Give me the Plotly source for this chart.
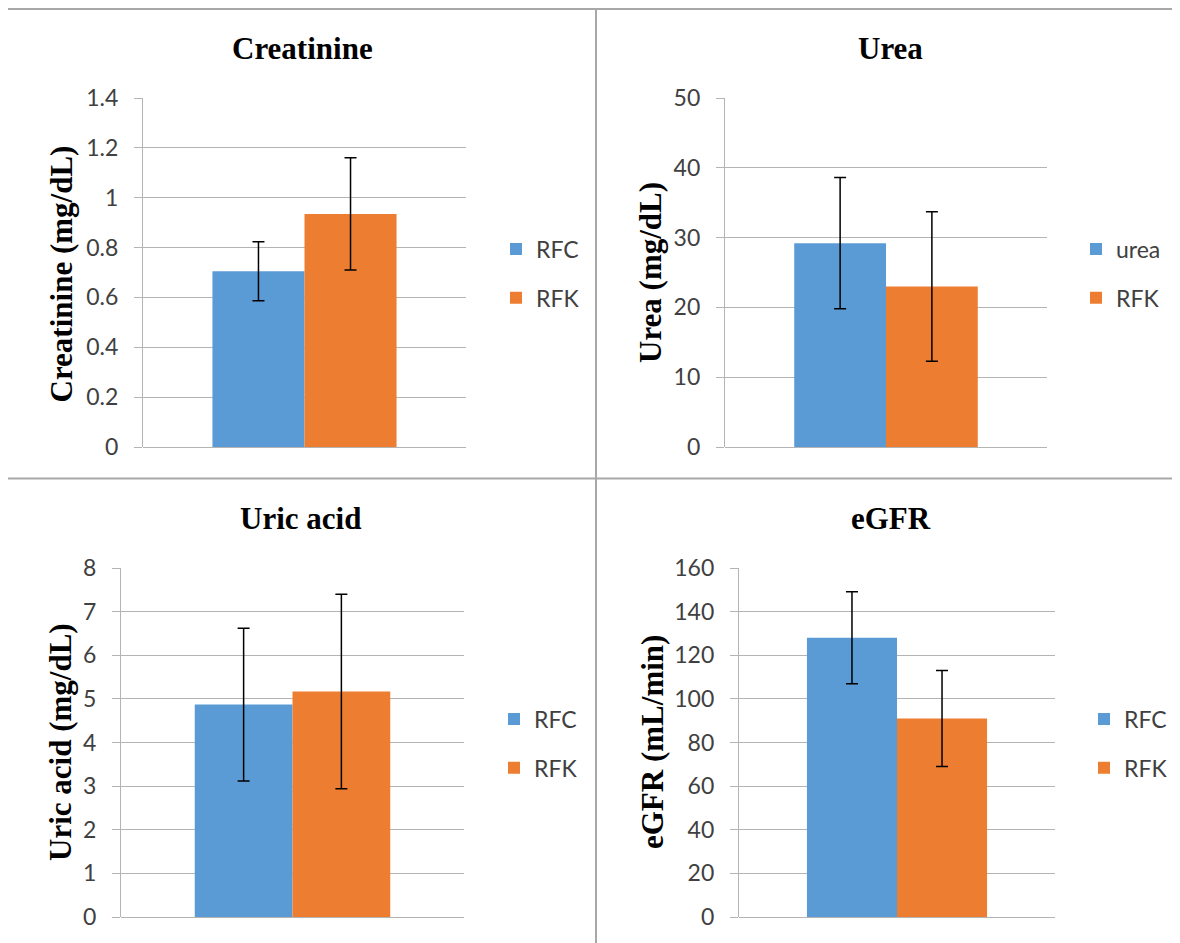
import plotly.graph_objects as go

W, H = 1180, 943
OFF = 8  # page body margin in the browser

# ---------------- data ----------------
group_names = ["RFC", "RFK"]
urea_group_names = ["urea", "RFK"]

creatinine_mean = [0.705, 0.935]
creatinine_sd = [0.118, 0.225]

urea_mean = [29.2, 23.0]
urea_sd = [9.4, 10.7]

uric_mean = [4.87, 5.17]
uric_sd = [1.75, 2.23]

egfr_mean = [128.0, 91.0]
egfr_sd = [21.1, 22.0]

panel_titles = ["Creatinine", "Urea", "Uric acid", "eGFR"]
axis_titles = ["Creatinine (mg/dL)", "Urea (mg/dL)", "Uric acid (mg/dL)", "eGFR (mL/min)"]
y_max = [1.4, 50, 8, 160]
y_step = [0.2, 10, 1, 20]

# ---------------- style ----------------
bar_colors = ["#5B9BD5", "#ED7D31"]
grid_col = "#b4b4b4"
border_col = "#a8a8a8"
tick_font = dict(family="Lato", size=23, color="#404040")
serif = "Liberation Serif"

def fx(p):
    return (p - OFF) / W

def fy(p):
    return 1 - (p - OFF) / H

panels = [
    dict(names=group_names, mean=creatinine_mean, sd=creatinine_sd,
         plot=(143, 466, 98, 447), title_xy=(302, 48), ytitle_xy=(61, 274.5), leg=(516, 273.5)),
    dict(names=urea_group_names, mean=urea_mean, sd=urea_sd,
         plot=(725, 1047, 98, 447), title_xy=(890, 48), ytitle_xy=(650, 273), leg=(1096, 273.5)),
    dict(names=group_names, mean=uric_mean, sd=uric_sd,
         plot=(121, 464, 568, 917), title_xy=(300, 518), ytitle_xy=(60, 742), leg=(514, 743.5)),
    dict(names=group_names, mean=egfr_mean, sd=egfr_sd,
         plot=(739, 1055, 568, 917), title_xy=(891, 518), ytitle_xy=(652, 742), leg=(1104, 743.5)),
]

fig = go.Figure()
layout = dict(
    width=W, height=H, margin=dict(l=0, r=0, t=0, b=0, autoexpand=False),
    paper_bgcolor="white", plot_bgcolor="white",
    barmode="group", bargap=0.43, bargroupgap=0,
    showlegend=True,
)
annotations = []

for i, p in enumerate(panels):
    k = "" if i == 0 else str(i + 1)
    xa, ya, lg = "x" + k, "y" + k, "legend" + k
    for j in range(2):
        fig.add_trace(go.Bar(
            x=[0], y=[p["mean"][j]], name=p["names"][j],
            marker=dict(color=bar_colors[j], line=dict(width=0)),
            error_y=dict(type="data", array=[p["sd"][j]], color="black", thickness=1.5, width=6),
            xaxis=xa, yaxis=ya, legend=lg, legendgroup=f"g{i}_{j}",
            offsetgroup=str(j),
        ))
    x0, x1, y0, y1 = p["plot"]
    layout["xaxis" + k] = dict(domain=[fx(x0), fx(x1)], range=[-0.5, 0.5], anchor=ya,
                                showticklabels=False, showgrid=False, zeroline=False,
                                ticks="", showline=False, fixedrange=True)
    layout["yaxis" + k] = dict(domain=[fy(y1), fy(y0)], range=[0, y_max[i]], dtick=y_step[i],
                                anchor=xa, showgrid=True, gridcolor=grid_col, gridwidth=1.3,
                                zeroline=True, zerolinecolor=grid_col, zerolinewidth=1.3,
                                showline=True, linecolor=grid_col, linewidth=1.3,
                                ticks="outside", ticklen=8, tickcolor=grid_col, tickwidth=1.3,
                                tickfont=tick_font, ticklabelstandoff=11, fixedrange=True)
    lx, ly = p["leg"]
    layout[lg] = dict(x=fx(lx - 20), y=fy(ly), xanchor="left", yanchor="middle",
                      font=tick_font, bgcolor="rgba(0,0,0,0)", borderwidth=0,
                      tracegroupgap=16, itemwidth=30)
    tx, ty = p["title_xy"]
    annotations.append(dict(text="<b>" + panel_titles[i] + "</b>", x=fx(tx), y=fy(ty),
                            xref="paper", yref="paper", xanchor="center", yanchor="middle",
                            showarrow=False, font=dict(family=serif, size=31, color="black")))
    ax, ay = p["ytitle_xy"]
    annotations.append(dict(text="<b>" + axis_titles[i] + "</b>", x=fx(ax), y=fy(ay),
                            xref="paper", yref="paper", xanchor="center", yanchor="middle",
                            textangle=-90, showarrow=False,
                            font=dict(family=serif, size=31, color="black")))

layout["annotations"] = annotations

line = dict(color=border_col, width=2)
shapes = [
    dict(type="line", xref="paper", yref="paper", x0=fx(6), x1=fx(1190), y0=fy(9), y1=fy(9), line=line),
    dict(type="line", xref="paper", yref="paper", x0=fx(6.5), x1=fx(6.5), y0=fy(9), y1=fy(478), line=line),
    dict(type="line", xref="paper", yref="paper", x0=fx(4.5), x1=fx(4.5), y0=fy(478), y1=fy(950), line=line),
    dict(type="line", xref="paper", yref="paper", x0=fx(4), x1=fx(1190), y0=fy(478.5), y1=fy(478.5), line=line),
    dict(type="line", xref="paper", yref="paper", x0=fx(596), x1=fx(596), y0=fy(9), y1=fy(950), line=line),
]
layout["shapes"] = shapes

fig.update_layout(**layout)
fig.write_html("out.html")
